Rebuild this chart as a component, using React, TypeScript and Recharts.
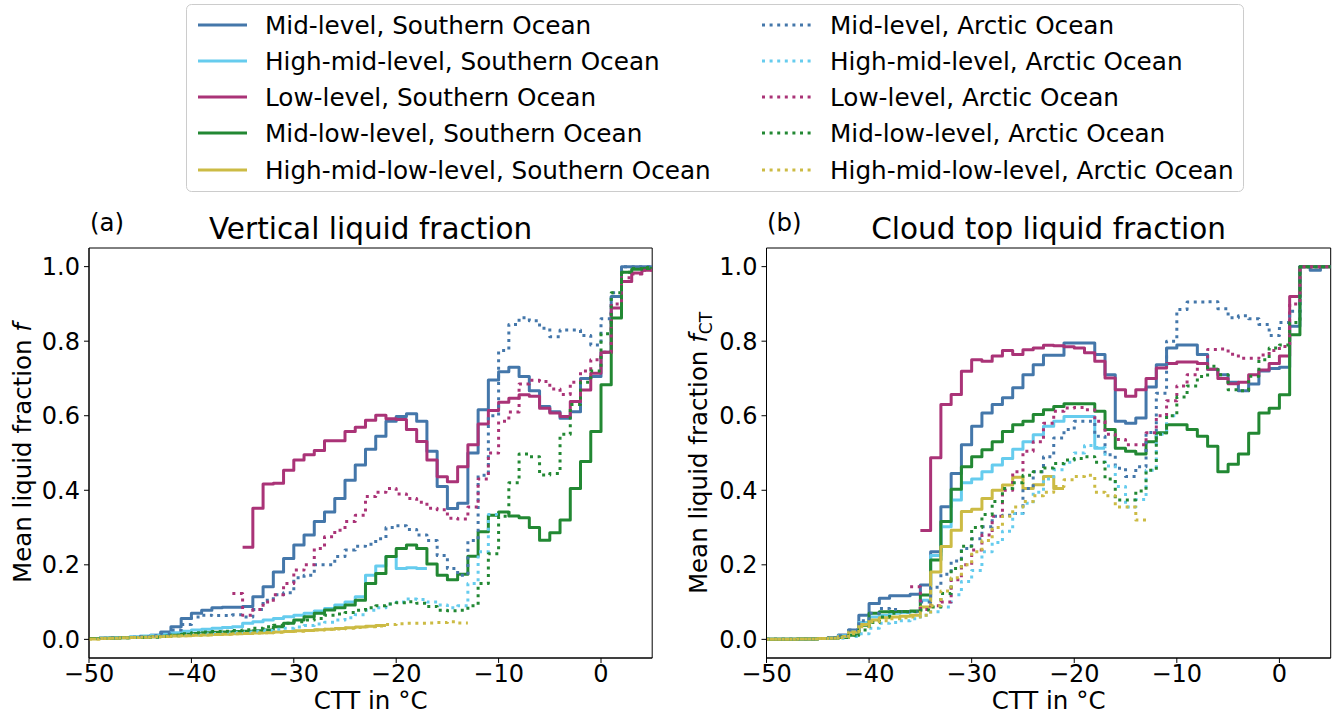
import React from 'react';
import { LineChart, Line, XAxis, YAxis, ReferenceArea } from 'recharts';

const FONT = "'DejaVu Sans', Verdana, sans-serif";

const xTicks = [-50, -40, -30, -20, -10, 0];
const yTicks = [0, 0.2, 0.4, 0.6, 0.8, 1.0];

const BLUE = '#4477AA';
const CYAN = '#66CCEE';
const PURPLE = '#AA3377';
const GREEN = '#228833';
const YELLOW = '#CCBB44';

// ---------- Panel (a): vertical liquid fraction (1 degC bins, left edges) ----------
const aMidSOStart = -50;
const aMidSO = [
  0.002, 0.003, 0.004, 0.005, 0.006, 0.008, 0.011, 0.02, 0.034, 0.056,
  0.07, 0.078, 0.085, 0.086, 0.086, 0.088, 0.114, 0.141, 0.181, 0.217,
  0.253, 0.28, 0.316, 0.342, 0.378, 0.427, 0.468, 0.51, 0.545, 0.585,
  0.598, 0.605, 0.585, 0.505, 0.41, 0.351, 0.365, 0.5, 0.616, 0.696,
  0.718, 0.73, 0.705, 0.667, 0.625, 0.611, 0.593, 0.611, 0.7, 0.705,
  0.77, 0.92, 1.0, 1.0, 1.0,
];
const aHighMidSOStart = -50;
const aHighMidSO = [
  0.002, 0.003, 0.004, 0.005, 0.007, 0.009, 0.011, 0.014, 0.018, 0.022,
  0.025, 0.027, 0.03, 0.032, 0.034, 0.043, 0.047, 0.052, 0.056, 0.061,
  0.065, 0.07, 0.076, 0.083, 0.092, 0.1, 0.114, 0.172, 0.197, 0.222,
  0.19, 0.192, 0.19,
];
const aLowSOStart = -35;
const aLowSO = [
  0.247, 0.352, 0.417, 0.419, 0.454, 0.481, 0.495, 0.507, 0.533, 0.533,
  0.558, 0.569, 0.588, 0.601, 0.592, 0.59, 0.563, 0.531, 0.481, 0.436,
  0.423, 0.463, 0.522, 0.578, 0.614, 0.636, 0.647, 0.656, 0.652, 0.62,
  0.607, 0.598, 0.638, 0.669, 0.714, 0.77, 0.889, 0.96, 0.983, 0.99,
];
const aMidLowSOStart = -50;
const aMidLowSO = [
  0.002, 0.003, 0.003, 0.004, 0.005, 0.006, 0.007, 0.009, 0.011, 0.014,
  0.016, 0.018, 0.019, 0.02, 0.021, 0.022, 0.023, 0.025, 0.034, 0.043,
  0.052, 0.061, 0.07, 0.079, 0.085, 0.092, 0.105, 0.15, 0.177, 0.222,
  0.244, 0.253, 0.244, 0.202, 0.172, 0.16, 0.175, 0.223, 0.289, 0.333,
  0.342, 0.331, 0.326, 0.3, 0.266, 0.286, 0.32, 0.405, 0.477, 0.558,
  0.683, 0.862, 0.985, 0.993, 0.995,
];
const aHmlSOStart = -50;
const aHmlSO = [
  0.001, 0.002, 0.003, 0.004, 0.005, 0.006, 0.007, 0.008, 0.009, 0.01,
  0.011, 0.012, 0.013, 0.014, 0.015, 0.016, 0.017, 0.018, 0.02, 0.021,
  0.023, 0.024, 0.026, 0.027, 0.029, 0.031, 0.033, 0.035, 0.037,
];
const aMidAOStart = -50;
const aMidAO = [
  0.002, 0.003, 0.004, 0.005, 0.006, 0.008, 0.01, 0.015, 0.025, 0.04,
  0.06, 0.065, 0.064, 0.064, 0.066, 0.06, 0.08, 0.105, 0.12, 0.125,
  0.165, 0.172, 0.2, 0.2, 0.222, 0.24, 0.25, 0.255, 0.27, 0.3,
  0.305, 0.295, 0.28, 0.265, 0.225, 0.19, 0.172, 0.265, 0.44, 0.6,
  0.775, 0.845, 0.863, 0.855, 0.835, 0.812, 0.83, 0.83, 0.815, 0.79,
  0.86, 0.93, 1.0, 1.0, 1.0,
];
const aHighMidAOStart = -50;
const aHighMidAO = [
  0.002, 0.002, 0.003, 0.004, 0.005, 0.006, 0.007, 0.009, 0.01, 0.012,
  0.014, 0.015, 0.016, 0.018, 0.019, 0.02, 0.022, 0.024, 0.027, 0.03,
  0.033, 0.037, 0.041, 0.046, 0.052, 0.058, 0.066, 0.078, 0.085, 0.095,
  0.1, 0.108, 0.107, 0.1, 0.092, 0.085, 0.09, 0.15, 0.235, 0.335,
];
const aLowAOStart = -36;
const aLowAO = [
  0.123, 0.065, 0.08, 0.1, 0.12, 0.15, 0.186, 0.2, 0.244, 0.275,
  0.293, 0.316, 0.333, 0.383, 0.395, 0.405, 0.39, 0.378, 0.368, 0.352,
  0.348, 0.325, 0.323, 0.355, 0.43, 0.5, 0.585, 0.61, 0.685, 0.695,
  0.692, 0.672, 0.657, 0.69, 0.72, 0.75, 0.77, 0.9, 0.97, 0.98, 0.99,
];
const aMidLowAOStart = -50;
const aMidLowAO = [
  0.002, 0.002, 0.003, 0.004, 0.005, 0.005, 0.006, 0.008, 0.011, 0.015,
  0.018, 0.02, 0.021, 0.022, 0.024, 0.026, 0.03, 0.034, 0.038, 0.043,
  0.047, 0.052, 0.056, 0.065, 0.068, 0.072, 0.078, 0.085, 0.09, 0.095,
  0.098, 0.101, 0.097, 0.088, 0.078, 0.077, 0.078, 0.09, 0.15, 0.23,
  0.33, 0.42, 0.497, 0.49, 0.441, 0.445, 0.55, 0.63, 0.69, 0.72,
  0.82, 0.93, 0.985, 0.995, 0.998,
];
const aHmlAOStart = -50;
const aHmlAO = [
  0.001, 0.002, 0.003, 0.004, 0.005, 0.006, 0.007, 0.008, 0.009, 0.01,
  0.011, 0.012, 0.013, 0.014, 0.015, 0.016, 0.017, 0.018, 0.019, 0.021,
  0.022, 0.024, 0.025, 0.027, 0.028, 0.03, 0.032, 0.034, 0.036, 0.04,
  0.042, 0.043, 0.043, 0.044, 0.045, 0.047, 0.044,
];

// ---------- Panel (b): cloud top liquid fraction ----------
const bMidSOStart = -50;
const bMidSO = [
  0.0, 0.0, 0.0, 0.001, 0.001, 0.002, 0.004, 0.012, 0.025, 0.065,
  0.096, 0.11, 0.117, 0.117, 0.121, 0.146, 0.235, 0.356, 0.445, 0.522,
  0.572, 0.607, 0.63, 0.648, 0.675, 0.71, 0.737, 0.762, 0.762, 0.795,
  0.795, 0.795, 0.764, 0.71, 0.585, 0.58, 0.594, 0.677, 0.737, 0.782,
  0.79, 0.79, 0.764, 0.725, 0.71, 0.69, 0.667, 0.685, 0.72, 0.727,
  0.73, 0.84, 1.0, 0.99, 1.0,
];
const bHighMidSOStart = -50;
const bHighMidSO = [
  0.0, 0.0, 0.0, 0.001, 0.001, 0.002, 0.003, 0.01, 0.02, 0.045,
  0.06, 0.065, 0.07, 0.072, 0.075, 0.105, 0.225, 0.302, 0.374, 0.42,
  0.43, 0.45, 0.468, 0.485, 0.51, 0.53, 0.549, 0.572, 0.585, 0.598,
  0.598, 0.598, 0.513,
];
const bLowSOStart = -35;
const bLowSO = [
  0.292, 0.487, 0.63, 0.657, 0.719, 0.75, 0.746, 0.76, 0.775, 0.764,
  0.777, 0.782, 0.789, 0.788, 0.785, 0.782, 0.769, 0.746, 0.701, 0.67,
  0.652, 0.67, 0.7, 0.728, 0.74, 0.744, 0.744, 0.74, 0.725, 0.7,
  0.686, 0.69, 0.71, 0.723, 0.74, 0.76, 0.92, 1.0, 1.0, 1.0,
];
const bMidLowSOStart = -50;
const bMidLowSO = [
  0.0, 0.0, 0.0, 0.001, 0.001, 0.002, 0.003, 0.005, 0.011, 0.038,
  0.07, 0.074, 0.075, 0.075, 0.076, 0.119, 0.213, 0.316, 0.403, 0.463,
  0.49, 0.509, 0.53, 0.558, 0.576, 0.585, 0.603, 0.616, 0.625, 0.632,
  0.632, 0.632, 0.612, 0.563, 0.513, 0.505, 0.497, 0.53, 0.554, 0.576,
  0.576, 0.563, 0.545, 0.518, 0.45, 0.47, 0.497, 0.553, 0.607, 0.62,
  0.656, 0.817, 1.0, 1.0, 1.0,
];
const bHmlSOStart = -50;
const bHmlSO = [
  0.0, 0.0, 0.0, 0.001, 0.001, 0.002, 0.003, 0.008, 0.02, 0.04,
  0.052, 0.058, 0.06, 0.062, 0.065, 0.087, 0.181, 0.249, 0.293, 0.343,
  0.349, 0.378, 0.4, 0.414, 0.435, 0.405, 0.415, 0.437, 0.405,
];
const bMidAOStart = -50;
const bMidAO = [
  0.0, 0.0, 0.0, 0.001, 0.001, 0.002, 0.004, 0.01, 0.025, 0.05,
  0.07, 0.083, 0.08, 0.074, 0.074, 0.1, 0.14, 0.175, 0.21, 0.244,
  0.27, 0.302, 0.33, 0.333, 0.338, 0.405, 0.45, 0.49, 0.54, 0.563,
  0.585, 0.585, 0.545, 0.495, 0.459, 0.437, 0.463, 0.555, 0.66, 0.8,
  0.885, 0.905, 0.905, 0.906, 0.887, 0.863, 0.868, 0.86, 0.845, 0.815,
  0.85, 0.88, 1.0, 1.0, 1.0,
];
const bHighMidAOStart = -50;
const bHighMidAO = [
  0.0, 0.0, 0.0, 0.001, 0.001, 0.002, 0.002, 0.003, 0.008, 0.015,
  0.03, 0.043, 0.045, 0.05, 0.055, 0.065, 0.074, 0.087, 0.12, 0.155,
  0.185, 0.235, 0.26, 0.29, 0.338, 0.365, 0.395, 0.43, 0.455, 0.475,
  0.5, 0.52, 0.515, 0.465, 0.41, 0.355, 0.375, 0.454, 0.55, 0.6,
];
const bLowAOStart = -36;
const bLowAO = [
  0.141, 0.08, 0.09, 0.1, 0.16, 0.2, 0.24, 0.28, 0.33, 0.4,
  0.45, 0.505, 0.53, 0.58, 0.612, 0.621, 0.622, 0.616, 0.585, 0.55,
  0.536, 0.522, 0.522, 0.554, 0.6, 0.64, 0.68, 0.71, 0.74, 0.778,
  0.779, 0.765, 0.754, 0.754, 0.763, 0.775, 0.786, 0.9, 1.0, 1.0, 1.0,
];
const bMidLowAOStart = -50;
const bMidLowAO = [
  0.0, 0.0, 0.0, 0.001, 0.001, 0.002, 0.003, 0.006, 0.011, 0.025,
  0.045, 0.06, 0.07, 0.074, 0.075, 0.079, 0.087, 0.123, 0.19, 0.25,
  0.3, 0.335, 0.37, 0.405, 0.42, 0.44, 0.45, 0.46, 0.472, 0.481,
  0.485, 0.49, 0.475, 0.43, 0.374, 0.374, 0.398, 0.454, 0.55, 0.6,
  0.65, 0.68, 0.705, 0.733, 0.71, 0.67, 0.667, 0.706, 0.75, 0.782,
  0.79, 0.85, 1.0, 1.0, 1.0,
];
const bHmlAOStart = -50;
const bHmlAO = [
  0.0, 0.0, 0.0, 0.001, 0.001, 0.002, 0.003, 0.005, 0.015, 0.034,
  0.047, 0.05, 0.055, 0.058, 0.06, 0.065, 0.09, 0.13, 0.165, 0.2,
  0.235, 0.265, 0.3, 0.33, 0.355, 0.37, 0.385, 0.395, 0.41, 0.428,
  0.437, 0.44, 0.395, 0.385, 0.355, 0.355, 0.32,
];

type Series = { key: string; color: string; dotted: boolean; start: number; values: number[] };

const panelA: Series[] = [
  { key: 'midSO', color: BLUE, dotted: false, start: aMidSOStart, values: aMidSO },
  { key: 'highMidSO', color: CYAN, dotted: false, start: aHighMidSOStart, values: aHighMidSO },
  { key: 'lowSO', color: PURPLE, dotted: false, start: aLowSOStart, values: aLowSO },
  { key: 'midLowSO', color: GREEN, dotted: false, start: aMidLowSOStart, values: aMidLowSO },
  { key: 'hmlSO', color: YELLOW, dotted: false, start: aHmlSOStart, values: aHmlSO },
  { key: 'midAO', color: BLUE, dotted: true, start: aMidAOStart, values: aMidAO },
  { key: 'highMidAO', color: CYAN, dotted: true, start: aHighMidAOStart, values: aHighMidAO },
  { key: 'lowAO', color: PURPLE, dotted: true, start: aLowAOStart, values: aLowAO },
  { key: 'midLowAO', color: GREEN, dotted: true, start: aMidLowAOStart, values: aMidLowAO },
  { key: 'hmlAO', color: YELLOW, dotted: true, start: aHmlAOStart, values: aHmlAO },
];
const panelB: Series[] = [
  { key: 'midSO', color: BLUE, dotted: false, start: bMidSOStart, values: bMidSO },
  { key: 'highMidSO', color: CYAN, dotted: false, start: bHighMidSOStart, values: bHighMidSO },
  { key: 'lowSO', color: PURPLE, dotted: false, start: bLowSOStart, values: bLowSO },
  { key: 'midLowSO', color: GREEN, dotted: false, start: bMidLowSOStart, values: bMidLowSO },
  { key: 'hmlSO', color: YELLOW, dotted: false, start: bHmlSOStart, values: bHmlSO },
  { key: 'midAO', color: BLUE, dotted: true, start: bMidAOStart, values: bMidAO },
  { key: 'highMidAO', color: CYAN, dotted: true, start: bHighMidAOStart, values: bHighMidAO },
  { key: 'lowAO', color: PURPLE, dotted: true, start: bLowAOStart, values: bLowAO },
  { key: 'midLowAO', color: GREEN, dotted: true, start: bMidLowAOStart, values: bMidLowAO },
  { key: 'hmlAO', color: YELLOW, dotted: true, start: bHmlAOStart, values: bHmlAO },
];

const legendLeft = [
  { label: 'Mid-level, Southern Ocean', color: BLUE, dotted: false },
  { label: 'High-mid-level, Southern Ocean', color: CYAN, dotted: false },
  { label: 'Low-level, Southern Ocean', color: PURPLE, dotted: false },
  { label: 'Mid-low-level, Southern Ocean', color: GREEN, dotted: false },
  { label: 'High-mid-low-level, Southern Ocean', color: YELLOW, dotted: false },
];
const legendRight = [
  { label: 'Mid-level, Arctic Ocean', color: BLUE, dotted: true },
  { label: 'High-mid-level, Arctic Ocean', color: CYAN, dotted: true },
  { label: 'Low-level, Arctic Ocean', color: PURPLE, dotted: true },
  { label: 'Mid-low-level, Arctic Ocean', color: GREEN, dotted: true },
  { label: 'High-mid-low-level, Arctic Ocean', color: YELLOW, dotted: true },
];

const X_MIN = -50;
const X_MAX = 5;
const DOT = '3 4.6';

function buildRows(series: Series[]) {
  const rows: any[] = [];
  for (let x = X_MIN; x <= X_MAX; x++) rows.push({ x });
  series.forEach((s) => {
    s.values.forEach((v, i) => {
      rows[s.start + i - X_MIN][s.key] = v;
    });
    const end = s.start + s.values.length;
    rows[end - X_MIN][s.key] = s.values[s.values.length - 1];
  });
  return rows;
}

const fmtX = (v: number) => (v < 0 ? '\u2212' + Math.abs(v) : String(v));
const fmtY = (v: number) => v.toFixed(1);
const tickStyle = { fontSize: 24, fill: '#000', fontFamily: FONT };

function Panel({ left, width, mLeft, mRight, series }: { left: number; width: number; mLeft: number; mRight: number; series: Series[] }) {
  const rows = buildRows(series);
  return (
    <div style={{ position: 'absolute', left, top: 0 }}>
      <LineChart width={width} height={716} data={rows} margin={{ top: 248, bottom: 18, left: mLeft, right: mRight }}>
        <XAxis
          dataKey="x"
          type="number"
          domain={[X_MIN, X_MAX]}
          ticks={xTicks}
          allowDataOverflow
          interval={0}
          height={40}
          tickSize={5}
          tickMargin={2}
          tickFormatter={fmtX}
          tick={tickStyle}
          axisLine={{ stroke: '#000' }}
          tickLine={{ stroke: '#000' }}
        />
        <YAxis
          type="number"
          domain={[-0.05, 1.05]}
          ticks={yTicks}
          allowDataOverflow
          interval={0}
          width={60}
          tickSize={5}
          tickMargin={4}
          tickFormatter={fmtY}
          tick={tickStyle}
          axisLine={{ stroke: '#000' }}
          tickLine={{ stroke: '#000' }}
        />
        <ReferenceArea x1={X_MIN} x2={X_MAX} y1={-0.05} y2={1.05} fill="none" fillOpacity={0} stroke="#000" strokeWidth={1} ifOverflow="visible" />
        {series.map((s) => (
          <Line
            key={s.key}
            type="stepAfter"
            dataKey={s.key}
            stroke={s.color}
            strokeWidth={3}
            strokeDasharray={s.dotted ? DOT : undefined}
            strokeLinejoin="round"
            dot={false}
            activeDot={false}
            connectNulls={false}
            isAnimationActive={false}
          />
        ))}
      </LineChart>
    </div>
  );
}

const LEG_FS = 24.7;

function LegendSvg() {
  const rowY = [25, 61, 97, 133, 170];
  return (
    <g>
      <rect x={186.5} y={4.5} width={1057} height={187} rx={5} ry={5} fill="#fff" stroke="#cccccc" strokeWidth={1} />
      {legendLeft.map((it, i) => (
        <g key={'l' + i}>
          <line x1={198} x2={247} y1={rowY[i]} y2={rowY[i]} stroke={it.color} strokeWidth={3} />
          <text x={265} y={rowY[i] + 8.8} fontSize={LEG_FS} fill="#000" fontFamily={FONT}>{it.label}</text>
        </g>
      ))}
      {legendRight.map((it, i) => (
        <g key={'r' + i}>
          <line x1={762} x2={811} y1={rowY[i]} y2={rowY[i]} stroke={it.color} strokeWidth={3} strokeDasharray={DOT} />
          <text x={830} y={rowY[i] + 8.8} fontSize={LEG_FS} fill="#000" fontFamily={FONT}>{it.label}</text>
        </g>
      ))}
    </g>
  );
}

const X_LABEL = 'CTT in \u00B0C';

export default function App() {
  return (
    <div style={{ position: 'relative', width: 1341, height: 716, background: '#fff', overflow: 'hidden', fontFamily: FONT }}>
      <style>{'body{margin:0;}'}</style>
      <Panel left={0} width={700} mLeft={29} mRight={47.8} series={panelA} />
      <Panel left={680} width={661} mLeft={26.5} mRight={10.3} series={panelB} />
      <svg width={1341} height={716} style={{ position: 'absolute', left: 0, top: 0, pointerEvents: 'none' }}>
        <LegendSvg />
        <text x={90} y={231} fontSize={24.5} fill="#000" fontFamily={FONT}>(a)</text>
        <text x={767} y={231} fontSize={24.5} fill="#000" fontFamily={FONT}>(b)</text>
        <text x={370.6} y={239} fontSize={29.5} fill="#000" fontFamily={FONT} textAnchor="middle">Vertical liquid fraction</text>
        <text x={1048.6} y={239} fontSize={29.5} fill="#000" fontFamily={FONT} textAnchor="middle">Cloud top liquid fraction</text>
        <text x={370.6} y={709} fontSize={24.5} fill="#000" fontFamily={FONT} textAnchor="middle">{X_LABEL}</text>
        <text x={1048.6} y={709} fontSize={24.5} fill="#000" fontFamily={FONT} textAnchor="middle">{X_LABEL}</text>
        <text transform="translate(31,453) rotate(-90)" fontSize={24.5} fill="#000" fontFamily={FONT} textAnchor="middle">
          Mean liquid fraction <tspan fontStyle="italic">f</tspan>
        </text>
        <text transform="translate(707,453) rotate(-90)" fontSize={24.5} fill="#000" fontFamily={FONT} textAnchor="middle">
          Mean liquid fraction <tspan fontStyle="italic">f</tspan><tspan fontSize={17} dy={5}>CT</tspan>
        </text>
      </svg>
    </div>
  );
}
